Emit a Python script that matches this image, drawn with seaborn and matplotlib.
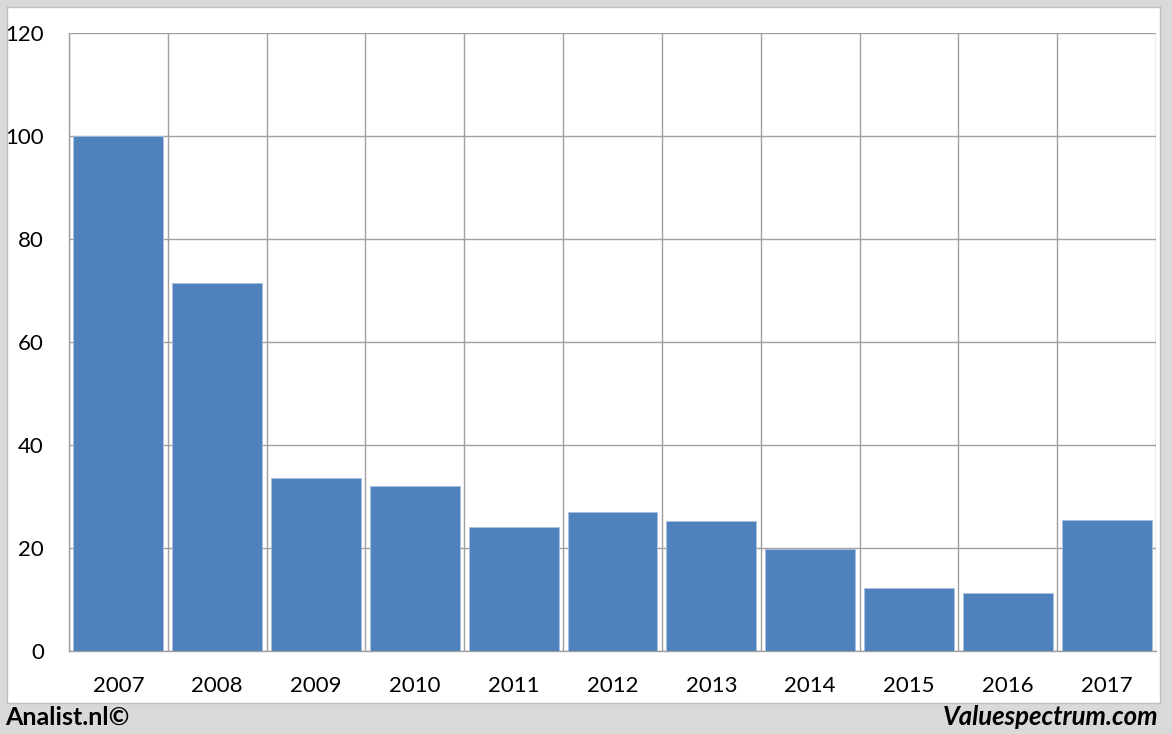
import matplotlib
matplotlib.use("Agg")
import matplotlib.pyplot as plt
import seaborn as sns
import pandas as pd

# waarden
years = ["2007", "2008", "2009", "2010", "2011", "2012", "2013", "2014", "2015", "2016", "2017"]
values = [100, 71.5, 33.5, 32.0, 24.1, 26.9, 25.2, 19.9, 12.2, 11.3, 25.4]
yticks = [0, 20, 40, 60, 80, 100, 120]

df = pd.DataFrame({"jaar": years, "waarde": values})

sns.set_style("white")
plt.rcParams["font.family"] = ["Lato", "DejaVu Sans"]

W, H = 1172, 734
fig = plt.figure(figsize=(W / 100, H / 100), dpi=100)
fig.patch.set_facecolor("#d9d9d9")

# wit paneel als achtergrond-assen
bg = fig.add_axes([7 / W, 1 - 703 / H, (1160 - 7) / W, (703 - 7) / H], zorder=0)
bg.set_facecolor("white")
bg.set_xticks([])
bg.set_yticks([])
for s in bg.spines.values():
    s.set_color("#bfbfbf")
    s.set_linewidth(1)

ax = fig.add_axes([69 / W, 1 - 651 / H, (1156 - 69) / W, (651 - 33) / H], zorder=1)
ax.patch.set_alpha(0)

sns.barplot(data=df, x="jaar", y="waarde", color="#4f81bd", saturation=1,
            width=0.91, edgecolor="#a9c0df", linewidth=0.6, ax=ax, zorder=3)

ax.set_xlim(-0.5, len(years) - 0.5)
ax.set_ylim(0, 120)
ax.set_yticks(yticks)
ax.set_yticklabels([str(v) for v in yticks])
ax.set_xlabel("")
ax.set_ylabel("")

# gridlijnen op de categoriegrenzen
bounds = [i - 0.5 for i in range(len(years) + 1)]
ax.set_xticks(bounds, minor=True)
ax.tick_params(axis="x", which="major", length=0, pad=18, labelsize=16, colors="black")
ax.tick_params(axis="x", which="minor", length=8, width=1, color="#a0a0a0")
ax.tick_params(axis="y", which="major", length=8, width=1, color="#a0a0a0",
               pad=10, labelsize=16, labelcolor="black")
ax.grid(True, axis="y", which="major", color="#a0a0a0", linewidth=1, zorder=0)
ax.grid(True, axis="x", which="minor", color="#a0a0a0", linewidth=1, zorder=0)
ax.set_axisbelow(True)

for s in ["top", "right"]:
    ax.spines[s].set_visible(False)
for s in ["left", "bottom"]:
    ax.spines[s].set_color("#a0a0a0")
    ax.spines[s].set_linewidth(1)

fig.text(5 / W, 1 - 717 / H, "Analist.nl©", fontsize=18, fontweight="bold",
         ha="left", va="center", color="black")
fig.text(1158 / W, 1 - 717 / H, "Valuespectrum.com", fontsize=18.5, fontweight="bold",
         style="italic", ha="right", va="center", color="black")

fig.savefig("out.png", dpi=100, facecolor=fig.get_facecolor())
